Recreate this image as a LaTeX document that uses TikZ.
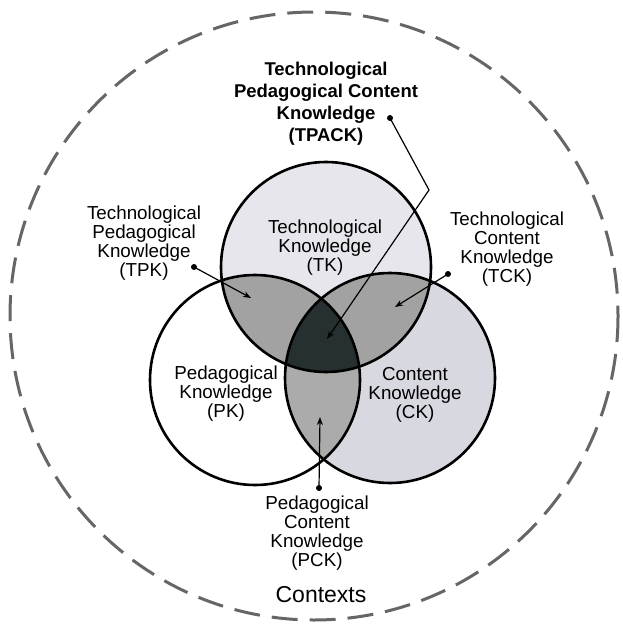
\documentclass[tikz,border=0pt]{standalone}
\usepackage{fontspec}
\setmainfont{Liberation Sans}
\usetikzlibrary{arrows.meta}
\definecolor{tkfill}{HTML}{E6E6EC}
\definecolor{ckfill}{HTML}{D8D8E0}
\definecolor{pairfill}{HTML}{A2A2A2}
\definecolor{pckfill}{HTML}{ABABAB}
\definecolor{centerfill}{HTML}{263030}
\definecolor{ctxgray}{HTML}{666666}
\begin{document}
\begin{tikzpicture}[x=1pt,y=-1pt,
  lbl/.style={align=center, font=\fontsize{18.8}{19}\selectfont, inner sep=0pt},
  bold lbl/.style={align=center, font=\fontsize{18.5}{22}\selectfont\bfseries, inner sep=0pt},
  ring/.style={line width=2.6pt, draw=black},
  conn/.style={line width=1.2pt, -{Stealth[length=8pt,width=6pt]}},
  dotmark/.style={circle, fill=black, inner sep=0pt, minimum size=6pt}]
\useasboundingbox (0,0) rectangle (622,628);
\fill[white] (0,0) rectangle (622,628);
% contexts ring
\draw[ctxgray, line width=3pt, dash pattern=on 26pt off 12pt] (314,316) circle (304);
% circle centres
\coordinate (tkc) at (326,267);
\coordinate (pkc) at (255,380);
\coordinate (ckc) at (390,378);
\def\R{105}
% base fills
\fill[tkfill] (tkc) circle (\R);
\fill[ckfill] (ckc) circle (\R);
\fill[white] (pkc) circle (\R);
% pairwise overlaps
\begin{scope}
  \clip (tkc) circle (\R);
  \fill[pairfill] (pkc) circle (\R);
  \fill[pairfill] (ckc) circle (\R);
\end{scope}
\begin{scope}
  \clip (pkc) circle (\R);
  \fill[pckfill] (ckc) circle (\R);
\end{scope}
\begin{scope}
  \clip (tkc) circle (\R);
  \clip (pkc) circle (\R);
  \fill[centerfill] (ckc) circle (\R);
\end{scope}
% outlines
\draw[ring] (tkc) circle (\R);
\draw[ring] (pkc) circle (\R);
\draw[ring] (ckc) circle (\R);
% labels
\node[bold lbl] (tpack) at (326,104) {Technological\\Pedagogical Content\\Knowledge\\(TPACK)};
\node[lbl] (tk) at (325,248) {Technological\\Knowledge\\(TK)};
\node[lbl] (pk) at (226,394) {Pedagogical\\Knowledge\\(PK)};
\node[lbl] (ck) at (415,395) {Content\\Knowledge\\(CK)};
\node[lbl] (tpk) at (144,243) {Technological\\Pedagogical\\Knowledge\\(TPK)};
\node[lbl] (tck) at (507,249) {Technological\\Content\\Knowledge\\(TCK)};
\node[lbl] (pck) at (317,533) {Pedagogical\\Content\\Knowledge\\(PCK)};
\node[font=\fontsize{23}{25}\selectfont, inner sep=0pt] (ctx) at (321,595) {Contexts};
% connectors
\node[dotmark] (dTPACK) at (390,118) {};
\coordinate (bendTPACK) at (429,190);
\coordinate (eTPACK) at (327,339);
\draw[conn] (dTPACK.center) -- (bendTPACK) -- (eTPACK);
\node[dotmark] (dTPK) at (194,267) {};
\coordinate (eTPK) at (251,298);
\draw[conn] (dTPK.center) -- (eTPK);
\node[dotmark] (dTCK) at (448,274) {};
\coordinate (eTCK) at (395,307);
\draw[conn] (dTCK.center) -- (eTCK);
\node[dotmark] (dPCK) at (319,488) {};
\coordinate (ePCK) at (320,417);
\draw[conn] (dPCK.center) -- (ePCK);
\end{tikzpicture}
\end{document}
